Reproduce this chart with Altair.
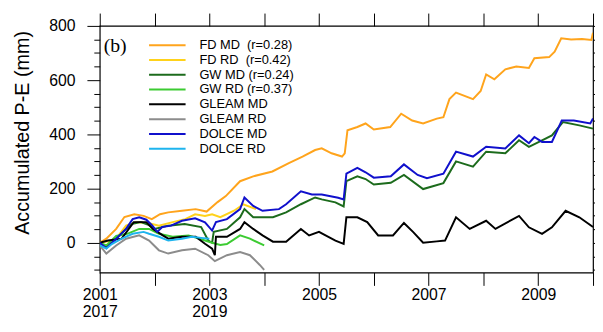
import altair as alt
import pandas as pd

FONT = "Liberation Sans"

series_names = [
    "FD MD\u00a0 (r=0.28)", "FD RD\u00a0 (r=0.42)", "GW MD (r=0.24)", "GW RD (r=0.37)",
    "GLEAM MD", "GLEAM RD", "DOLCE MD", "DOLCE RD",
]
series_colors = ["#FFA41C", "#FFD21A", "#1C6B1C", "#3CCB32", "#000000", "#8C8C8C", "#1010CC", "#1EB4EE"]

fd_md_year = [2001.00, 2001.12, 2001.30, 2001.45, 2001.63, 2001.80, 2001.95, 2002.10, 2002.25, 2002.50,
              2002.75, 2002.95, 2003.15, 2003.30, 2003.56, 2003.80, 2004.15, 2004.45, 2004.70, 2004.93,
              2005.05, 2005.23, 2005.42, 2005.47, 2005.52, 2005.70, 2005.85, 2006.00, 2006.30, 2006.50,
              2006.70, 2006.90, 2007.15, 2007.27, 2007.38, 2007.50, 2007.81, 2007.95, 2008.05, 2008.20,
              2008.40, 2008.60, 2008.83, 2008.93, 2009.20, 2009.30, 2009.42, 2009.60, 2009.80, 2009.97, 2010.00]
fd_md_val = [0, 15, 51, 95, 105, 99, 87, 105, 112, 118,
             124, 115, 150, 172, 227, 245, 263, 294, 318, 342,
             348, 330, 318, 330, 415, 427, 440, 418, 427, 476,
             451, 440, 458, 463, 530, 554, 530, 560, 621, 603,
             640, 650, 645, 681, 685, 705, 754, 750, 752, 748, 775]

fd_rd_year = [2001.00, 2001.15, 2001.30, 2001.48, 2001.66, 2001.90, 2002.08, 2002.33, 2002.56, 2002.74,
              2002.92, 2003.05, 2003.20, 2003.45, 2003.62, 2003.85]
fd_rd_val = [0, 5, 15, 63, 76, 72, 63, 76, 87, 105,
             99, 105, 94, 118, 142, 124]

gw_md_year = [2001.00, 2001.12, 2001.30, 2001.48, 2001.60, 2001.75, 2001.90, 2002.00, 2002.25, 2002.55,
              2002.85, 2002.98, 2003.05, 2003.08, 2003.32, 2003.56, 2003.64, 2003.80, 2004.16, 2004.40,
              2004.67, 2004.93, 2005.05, 2005.30, 2005.45, 2005.50, 2005.70, 2005.85, 2006.00, 2006.31,
              2006.55, 2006.90, 2007.27, 2007.50, 2007.81, 2008.05, 2008.40, 2008.65, 2008.83, 2009.07,
              2009.25, 2009.45, 2009.75, 2010.00]
gw_md_val = [0, -15, 15, 51, 70, 76, 65, 51, 63, 69,
             58, 8, 0, 40, 51, 94, 124, 94, 94, 112,
             142, 167, 160, 149, 134, 227, 245, 235, 215, 221,
             250, 198, 220, 300, 281, 336, 330, 378, 354, 378,
             396, 445, 433, 421]

gw_rd_year = [2001.00, 2001.12, 2001.30, 2001.50, 2001.72, 2001.90, 2002.08, 2002.33, 2002.62, 2002.92,
              2003.05, 2003.20, 2003.32, 2003.56, 2003.74, 2004.00]
gw_rd_val = [0, -10, 25, 33, 51, 51, 33, 22, 27, 8,
             0, -8, -5, 27, 15, -10]

gleam_md_year = [2001.00, 2001.15, 2001.40, 2001.62, 2001.85, 2001.97, 2002.15, 2002.25, 2002.50, 2002.75,
                 2002.92, 2003.05, 2003.10, 2003.12, 2003.32, 2003.56, 2003.64, 2003.80, 2003.97, 2004.16,
                 2004.40, 2004.67, 2004.82, 2005.00, 2005.12, 2005.30, 2005.45, 2005.50, 2005.70, 2005.88,
                 2006.08, 2006.35, 2006.55, 2006.72, 2006.90, 2007.15, 2007.30, 2007.50, 2007.75, 2008.05,
                 2008.22, 2008.65, 2008.83, 2009.07, 2009.25, 2009.50, 2009.75, 2010.00]
gleam_md_val = [0, 8, 15, 76, 76, 51, 27, 15, 22, 22,
                -4, -22, -46, 22, 22, 51, 76, 51, 27, 4,
                4, 51, 27, 40, 27, 8, -4, 94, 94, 76,
                27, 27, 73, 39, 0, 5, 8, 94, 51, 81,
                51, 99, 57, 33, 57, 118, 94, 58]

gleam_rd_year = [2001.00, 2001.12, 2001.30, 2001.48, 2001.72, 2001.90, 2002.08, 2002.25, 2002.50, 2002.74,
                 2002.98, 2003.10, 2003.32, 2003.56, 2003.74, 2003.92, 2004.00]
gleam_rd_val = [-10, -40, -10, 15, 27, 8, -28, -40, -28, -22,
                -46, -68, -46, -34, -46, -82, -100]

dolce_md_year = [2001.00, 2001.12, 2001.30, 2001.48, 2001.60, 2001.72, 2001.85, 2001.96, 2002.05, 2002.14,
                 2002.30, 2002.50, 2002.74, 2002.92, 2003.05, 2003.12, 2003.32, 2003.56, 2003.64, 2003.80,
                 2003.97, 2004.27, 2004.40, 2004.67, 2004.87, 2005.05, 2005.35, 2005.45, 2005.50, 2005.70,
                 2005.85, 2006.00, 2006.31, 2006.55, 2006.80, 2006.97, 2007.27, 2007.50, 2007.81, 2008.05,
                 2008.40, 2008.65, 2008.83, 2008.93, 2009.07, 2009.25, 2009.43, 2009.65, 2009.95, 2010.00]
dolce_md_val = [0, -20, 15, 51, 87, 94, 85, 63, 40, 58,
                63, 81, 90, 75, 45, 76, 87, 124, 167, 136,
                118, 124, 142, 190, 178, 178, 166, 160, 255, 276,
                260, 240, 245, 289, 250, 238, 255, 336, 318, 354,
                348, 396, 367, 390, 372, 372, 451, 451, 440, 458]

dolce_rd_year = [2001.00, 2001.12, 2001.22, 2001.40, 2001.60, 2001.80, 2001.90, 2002.08, 2002.25, 2002.50,
                 2002.68, 2002.85, 2003.00]
dolce_rd_val = [-10, -22, -5, 15, 33, 40, 33, 22, 8, 15,
                22, 18, 15]

series_years = [fd_md_year, fd_rd_year, gw_md_year, gw_rd_year, gleam_md_year, gleam_rd_year, dolce_md_year, dolce_rd_year]
series_vals = [fd_md_val, fd_rd_val, gw_md_val, gw_rd_val, gleam_md_val, gleam_rd_val, dolce_md_val, dolce_rd_val]

x_ticks = [2001, 2002, 2003, 2004, 2005, 2006, 2007, 2008, 2009, 2010]
x_label_years = [2001, 2003, 2005, 2007, 2009]
x_second_years = [2001, 2003]
x_second_labels = ["2017", "2019"]
y_ticks = [-100, -50, 0, 50, 100, 150, 200, 250, 300, 350, 400, 450, 500, 550, 600, 650, 700, 750, 800]
y_title = "Accumulated P-E (mm)"
panel_label = "(b)"

rows = []
for name, ys, vs in zip(series_names, series_years, series_vals):
    for yr, v in zip(ys, vs):
        rows.append({"series": name, "year": yr, "value": v})
df = pd.DataFrame(rows)

first_expr = "indexof([" + ",".join(str(v) for v in x_label_years) + "], datum.value) >= 0 ? datum.label : ''"
second_expr = "''"
for yr, lab in reversed(list(zip(x_second_years, x_second_labels))):
    second_expr = f"datum.value == {yr} ? '{lab}' : ({second_expr})"

y_tick_size = {"condition": {"test": "datum.value % 200 === 0", "value": 13}, "value": 6}
xscale = alt.Scale(domain=[2001, 2010], nice=False, zero=False)
yscale = alt.Scale(domain=[-110, 800], nice=False, zero=False)

lines = alt.Chart(df).mark_line(strokeWidth=2, clip=True).encode(
    x=alt.X("year:Q", scale=xscale, axis=alt.Axis(
        orient="bottom", values=x_ticks, tickSize=13, labelExpr=first_expr, format="d", title=None,
        domain=False, grid=False, labelFontSize=16, labelFont=FONT, labelPadding=1,
        labelColor="black", tickColor="black", labelFlush=False, labelOverlap=False)),
    y=alt.Y("value:Q", scale=yscale, axis=alt.Axis(
        orient="left", values=y_ticks, tickSize=y_tick_size,
        labelExpr="datum.value % 200 === 0 ? datum.label : ''",
        title=y_title, titleFont=FONT, titleFontSize=20, titleFontWeight="normal",
        titleColor="black", titleX=-72, titleY=108, titleAngle=270, titleAlign="center",
        titleBaseline="alphabetic", domain=False, grid=False, labelFontSize=16, labelFont=FONT,
        labelPadding=12, labelColor="black", tickColor="black", labelOverlap=False, labelFlush=False)),
    color=alt.Color("series:N", scale=alt.Scale(domain=series_names, range=series_colors),
                    legend=alt.Legend(orient="none", legendX=49, legendY=12, title=None,
                                      symbolType="stroke", symbolSize=1369, symbolStrokeWidth=2,
                                      labelFontSize=13, labelFont=FONT, labelColor="black",
                                      labelOffset=13, clipHeight=15, rowPadding=0, padding=0,
                                      labelLimit=300)),
)

frame = alt.Chart(df).mark_point(opacity=0).encode(
    x=alt.X("year:Q", scale=xscale, axis=alt.Axis(
        orient="top", values=x_ticks, tickSize=13, labels=False, domain=False, title=None,
        grid=False, tickColor="black")),
    y=alt.Y("value:Q", scale=yscale, axis=alt.Axis(
        orient="right", values=y_ticks, tickSize=y_tick_size, labels=False, domain=False,
        title=None, grid=False, tickColor="black")),
)

second_row = alt.Chart(df).mark_point(opacity=0).encode(
    x=alt.X("year:Q", scale=xscale, axis=alt.Axis(
        orient="bottom", values=x_second_years, ticks=False, tickSize=0, labelExpr=second_expr,
        title=None, domain=False, grid=False, labelFontSize=16, labelFont=FONT, labelPadding=32,
        labelColor="black", labelFlush=False, labelOverlap=False)),
    y=alt.Y("value:Q", scale=yscale, axis=None),
)

label = alt.Chart(pd.DataFrame({"t": [panel_label]})).mark_text(
    font="Liberation Serif", fontSize=20, align="left", baseline="alphabetic", color="black"
).encode(x=alt.value(4), y=alt.value(26), text="t:N")

chart = alt.layer(lines, frame, second_row, label).resolve_scale(
    x="independent", y="independent"
).properties(
    width=500, height=250,
    autosize=alt.AutoSizeParams(type="none"),
    padding={"left": 93, "top": 16, "right": 2, "bottom": 50},
).configure_view(stroke="black", strokeWidth=1.2)

chart.save("out.html", embed_options={"renderer": "svg", "actions": False})
